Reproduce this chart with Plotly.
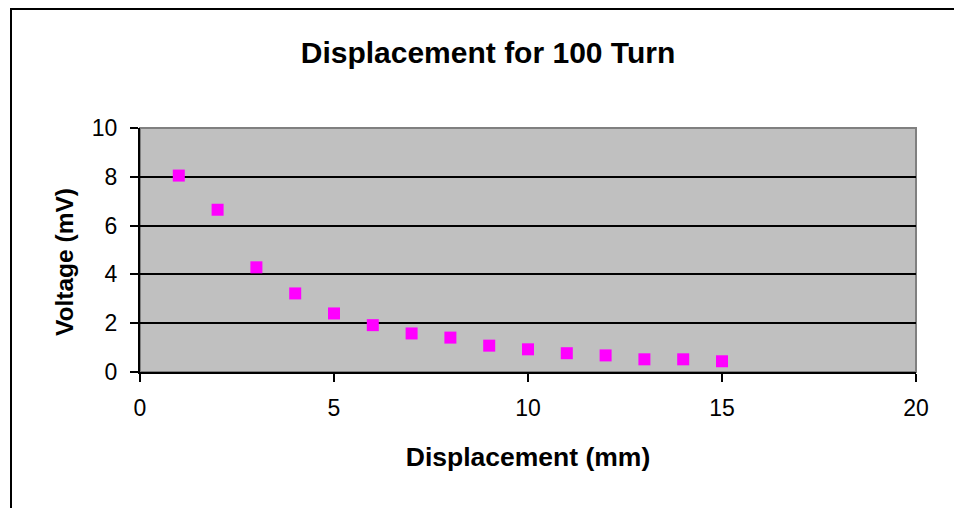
import plotly.graph_objects as go

displacement_mm = [1, 2, 3, 4, 5, 6, 7, 8, 9, 10, 11, 12, 13, 14, 15]
voltage_mv = [8.05, 6.65, 4.29, 3.22, 2.40, 1.92, 1.58, 1.41, 1.08, 0.93, 0.77, 0.68, 0.52, 0.52, 0.44]
x_ticks = [0, 5, 10, 15, 20]
y_ticks = [0, 2, 4, 6, 8, 10]

FONT = "Arial, Liberation Sans, sans-serif"
OFF = 8  # page body margin
W, H = 962 - OFF, 508 - OFF
L, T = 140 - OFF, 128 - OFF
PW, PH = 776, 244

fig = go.Figure()
fig.add_trace(go.Scatter(
    x=displacement_mm, y=voltage_mv, mode="markers",
    marker=dict(symbol="square", size=12, color="#FF00FF",
                line=dict(width=0)),
    showlegend=False,
))

fig.update_layout(
    width=W, height=H,
    margin=dict(l=L, r=W - L - PW, t=T, b=H - T - PH, autoexpand=False),
    paper_bgcolor="white",
    plot_bgcolor="#C0C0C0",
    title=dict(text="<b>Displacement for 100 Turn</b>",
               x=(488 - OFF) / W, xref="container", xanchor="center",
               y=1 - 44 / H, yref="container", yanchor="middle",
               font=dict(family=FONT, size=30, color="black")),
    font=dict(family=FONT, color="black"),
)

fig.update_xaxes(
    range=[0, 20], tickvals=x_ticks, ticktext=[str(v) for v in x_ticks],
    showgrid=False, zeroline=False,
    showline=True, linecolor="black", linewidth=2,
    ticks="outside", ticklen=8, tickwidth=2, tickcolor="black",
    ticklabelstandoff=6,
    tickfont=dict(family=FONT, size=23, color="black"),
    title=dict(text="<b>Displacement (mm)</b>", standoff=28,
               font=dict(family=FONT, size=26.5, color="black")),
)
fig.update_yaxes(
    range=[0, 10], tickvals=y_ticks, ticktext=[str(v) for v in y_ticks],
    showgrid=True, gridcolor="black", gridwidth=2, zeroline=False,
    showline=True, linecolor="black", linewidth=2,
    ticks="outside", ticklen=8, tickwidth=2, tickcolor="black",
    ticklabelstandoff=8,
    tickfont=dict(family=FONT, size=23, color="black"),
)

fig.add_annotation(text="<b>Voltage (mV)</b>", textangle=-90,
                   xref="paper", yref="paper",
                   x=(64 - 140) / PW, y=(372 - 262) / PH,
                   xanchor="center", yanchor="middle", showarrow=False,
                   font=dict(family=FONT, size=24.5, color="black"))

# gray border on top/right of plot area (covers top gridline)
fig.add_shape(type="rect", xref="paper", yref="paper", x0=0, x1=1, y0=0, y1=1,
              line=dict(color="#808080", width=2), layer="between")
# outer chart border (page coordinates converted to plot-area fractions)
fig.add_shape(type="rect", xref="paper", yref="paper",
              x0=(11 - OFF - L) / PW, x1=(960 - OFF - L) / PW,
              y0=(T + PH - 530) / PH, y1=(T + PH - 1) / PH,
              line=dict(color="black", width=2), layer="above")

fig.write_html("out.html")
